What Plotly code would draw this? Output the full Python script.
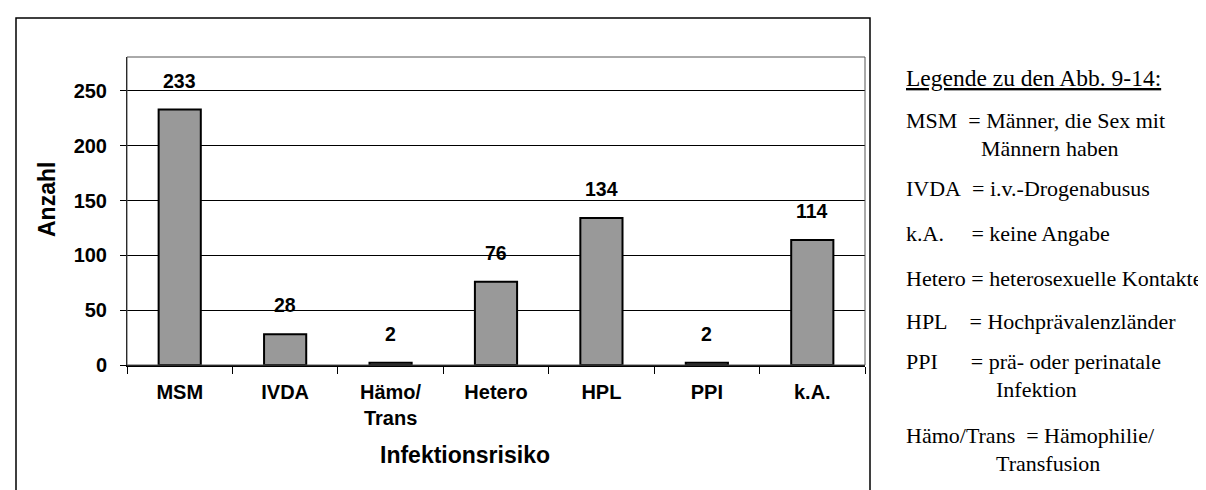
import plotly.graph_objects as go

categories = ["MSM", "IVDA", "Hämo/<br>Trans", "Hetero", "HPL", "PPI", "k.A."]
values = [233, 28, 2, 76, 134, 2, 114]
y_ticks = [0, 50, 100, 150, 200, 250]
y_title = "Anzahl"
x_title = "Infektionsrisiko"

legend_header = "Legende zu den Abb. 9-14:"
legend_rows = [
    ("MSM", "= Männer, die Sex mit", "Männern haben"),
    ("IVDA", "= i.v.-Drogenabusus", None),
    ("k.A.", "= keine Angabe", None),
    ("Hetero", "= heterosexuelle Kontakte", None),
    ("HPL", "= Hochprävalenzländer", None),
    ("PPI", "= prä- oder perinatale", "Infektion"),
    ("Hämo/Trans", "= Hämophilie/", "Transfusion"),
]
legend_gaps = [2, 2, 5, 1, 4, 6, 2]   # spaces between abbreviation and "="

W, H = 1206, 490
PL, PR, PT, PB = 119, 857, 49, 357   # plot area in pixels

def px(x):
    return (x - PL) / (PR - PL)

def py(y):
    return (PB - y) / (PB - PT)

SANS = "Liberation Sans, Arial, sans-serif"
SERIF = "Liberation Serif, Times New Roman, serif"

fig = go.Figure()
fig.add_trace(go.Bar(
    x=categories, y=values,
    marker=dict(color="#999999", line=dict(color="black", width=2)),
    width=0.4, showlegend=False, hoverinfo="x+y",
))

annotations = []
for c, v in zip(categories, values):
    annotations.append(dict(
        x=c, y=v, xref="x", yref="y", text=f"<b>{v}</b>", showarrow=False,
        yanchor="middle", yshift=29,
        font=dict(family=SANS, size=19.5, color="black"),
    ))

annotations.append(dict(
    x=px(39), y=py(192), xref="paper", yref="paper", text=f"<b>{y_title}</b>",
    textangle=-90, showarrow=False, xanchor="center", yanchor="middle",
    font=dict(family=SANS, size=23, color="black"),
))
annotations.append(dict(
    x=px(457), y=py(447), xref="paper", yref="paper", text=f"<b>{x_title}</b>",
    showarrow=False, xanchor="center", yanchor="middle",
    font=dict(family=SANS, size=23, color="black"),
))

LSIZE = 22
annotations.append(dict(
    x=px(896), y=py(70), xref="paper", yref="paper", text=legend_header,
    showarrow=False, xanchor="left", yanchor="middle",
    font=dict(family=SERIF, size=23.5, color="black", lineposition="under"),
))

row_y = [112, 180, 225, 270, 313, 353, 427]
cont_y = [140, None, None, None, None, 381, 455]
cont_x = [971, None, None, None, None, 986, 986]
for (lab, rest, cont), gap, yy, cy, cx in zip(legend_rows, legend_gaps, row_y, cont_y, cont_x):
    annotations.append(dict(
        x=px(896), y=py(yy), xref="paper", yref="paper",
        text=lab + "&nbsp;" * gap + rest,
        showarrow=False, xanchor="left", yanchor="middle",
        font=dict(family=SERIF, size=LSIZE, color="black")))
    if cont:
        annotations.append(dict(
            x=px(cx), y=py(cy), xref="paper", yref="paper", text=cont,
            showarrow=False, xanchor="left", yanchor="middle",
            font=dict(family=SERIF, size=LSIZE, color="black")))

shapes = [
    # plot area box
    dict(type="rect", xref="paper", yref="paper", x0=0, x1=1, y0=0, y1=1,
         line=dict(color="#555555", width=1), layer="above"),
    # outer chart border
    dict(type="rect", xref="paper", yref="paper", x0=px(8), x1=px(862),
         y0=py(530), y1=py(10), line=dict(color="black", width=1.5)),
]

fig.update_layout(
    width=W, height=H,
    margin=dict(l=PL, r=W - PR, t=PT, b=H - PB, pad=0),
    paper_bgcolor="white", plot_bgcolor="white",
    bargap=0.6,
    annotations=annotations, shapes=shapes,
    xaxis=dict(
        type="category", tickson="boundaries", ticks="outside", ticklen=7,
        tickcolor="black", tickwidth=1, showline=True, linecolor="black",
        linewidth=1.5, showgrid=False, ticklabelstandoff=8,
        tickfont=dict(family=SANS, size=20, color="black", weight="bold"),
        range=[-0.5, 6.5], fixedrange=True,
    ),
    yaxis=dict(
        range=[0, 281], tickvals=y_ticks, ticks="outside", ticklen=6,
        tickcolor="black", tickwidth=1, showline=True, linecolor="black",
        linewidth=1, showgrid=True, gridcolor="black", gridwidth=1,
        zeroline=False, ticklabelstandoff=9,
        tickfont=dict(family=SANS, size=20, color="black", weight="bold"),
        fixedrange=True,
    ),
)

fig.write_html("out.html")
